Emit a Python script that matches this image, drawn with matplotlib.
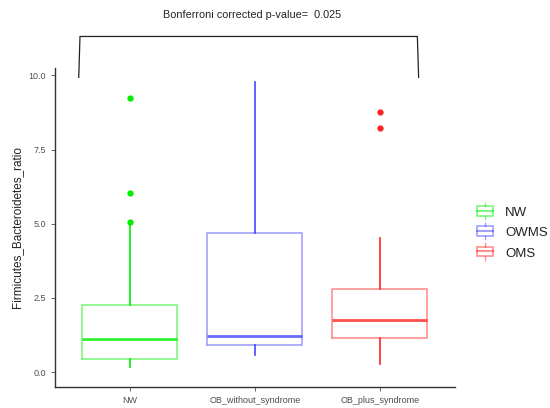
import matplotlib
matplotlib.use('Agg')
import matplotlib.pyplot as plt
from matplotlib.legend_handler import HandlerBase
from matplotlib.patches import Rectangle
from matplotlib.lines import Line2D

plt.rcParams['font.family'] = ['Liberation Sans', 'DejaVu Sans']

groups = ['NW', 'OB_without_syndrome', 'OB_plus_syndrome']
legend_labels = ['NW', 'OWMS', 'OMS']
colors = ['#00EE00', '#4444FF', '#FF2222']

# box stats
whisk_lo = [0.18, 0.57, 0.27]
q1 = [0.43, 0.90, 1.16]
med = [1.12, 1.22, 1.77]
q3 = [2.26, 4.70, 2.79]
whisk_hi = [5.06, 9.76, 4.53]
outliers = [[5.07, 6.02, 9.25], [], [8.24, 8.76]]

p_text = 'Bonferroni corrected p-value=  0.025'


class BoxHandler(HandlerBase):
    def create_artists(self, legend, orig_handle, xd, yd, width, height, fontsize, trans):
        c = orig_handle.get_color()
        w = width
        x0 = xd
        box = Rectangle((x0, yd), w, height, facecolor='none',
                        edgecolor=c, alpha=0.5, lw=1.2, transform=trans)
        mid = Line2D([x0, x0 + w], [yd + height / 2] * 2, color=c, alpha=0.5, lw=1.5, transform=trans)
        top = Line2D([xd + width / 2] * 2, [yd + height, yd + height * 1.35], color=c, alpha=0.5, lw=1, transform=trans)
        bot = Line2D([xd + width / 2] * 2, [yd - height * 0.35, yd], color=c, alpha=0.5, lw=1, transform=trans)
        return [box, mid, top, bot]


fig = plt.figure(figsize=(5.5, 4.08), dpi=100)
ax = fig.add_axes([0.1, 0.0515, 0.727, 0.782])

for i in range(3):
    stats = [dict(whislo=whisk_lo[i], q1=q1[i], med=med[i], q3=q3[i],
                  whishi=whisk_hi[i], fliers=outliers[i])]
    c = colors[i]
    ax.bxp(stats, positions=[i + 1], widths=0.76, showcaps=False,
           boxprops=dict(color=c, alpha=0.5, lw=1.2),
           medianprops=dict(color=c, lw=2, alpha=0.8),
           whiskerprops=dict(color=c, lw=1.2),
           flierprops=dict(marker='o', markerfacecolor=c, markeredgecolor=c, markersize=3.5))

ax.set_xlim(0.4, 3.6)
ax.set_ylim(-0.5, 10.25)
ax.set_xticks([1, 2, 3])
ax.set_xticklabels(groups)
ax.set_yticks([0, 2.5, 5, 7.5, 10])
ax.set_yticklabels(['0.0', '2.5', '5.0', '7.5', '10.0'])
ax.tick_params(colors='#4D4D4D', labelsize=6.5, length=3, width=0.6)
for s in ['top', 'right']:
    ax.spines[s].set_visible(False)
for s in ['left', 'bottom']:
    ax.spines[s].set_color('#333333')
    ax.spines[s].set_linewidth(1)
ax.set_ylabel('Firmicutes_Bacteroidetes_ratio', fontsize=8.5, color='#222222')

# significance bracket above the groups
ax.plot([0.59, 0.6, 3.3, 3.31], [9.93, 11.31, 11.31, 9.93], color='#222222', lw=0.9, clip_on=False)
ax.text(1.976, 12.05, p_text, ha='center', va='center', fontsize=7.8, color='#222222', clip_on=False)

handles = [Line2D([], [], color=c) for c in colors]
leg = fig.legend(handles, legend_labels, handler_map={Line2D: BoxHandler()},
                 loc='center left', bbox_to_anchor=(0.867, 0.429), frameon=False,
                 borderpad=0, borderaxespad=0,
                 prop=dict(size=9.5), handlelength=1.25, handleheight=0.75,
                 labelspacing=0.6, handletextpad=0.9)
for t in leg.get_texts():
    t.set_color('#222222')

fig.savefig('out.png', dpi=100)
